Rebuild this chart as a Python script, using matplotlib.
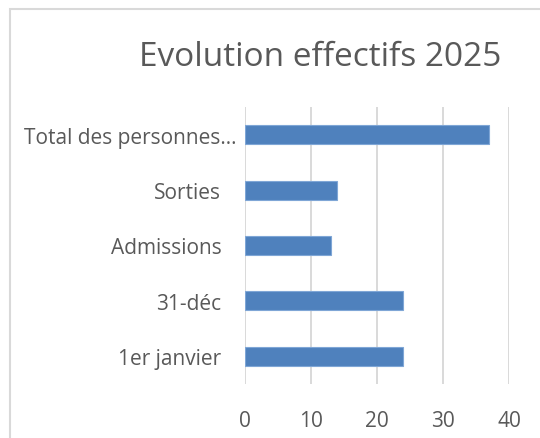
import matplotlib.pyplot as plt
from matplotlib.patches import Rectangle
from matplotlib.transforms import ScaledTranslation

categories = ['1er janvier', '31-déc', 'Admissions', 'Sorties', 'Total des personnes…']
values = [24, 24, 13, 14, 37]
x_ticks = [0, 10, 20, 30, 40]
title = 'Evolution effectifs 2025'

text_color = '#595959'
bar_color = '#4F81BD'
grid_color = '#D9D9D9'

plt.rcParams['font.family'] = ['Open Sans', 'DejaVu Sans']

W, H = 540, 439
fig = plt.figure(figsize=(W / 100, H / 100), dpi=100)

# chart frame, runs off the right and bottom of the picture
fig.patches.append(Rectangle((10 / W, -0.1), 1.2, 1 - 9.5 / H + 0.1,
                             transform=fig.transFigure, fill=False,
                             edgecolor=grid_color, linewidth=1.5))

ax = fig.add_axes([245 / W, 1 - 385 / H, (509 - 245) / W, (385 - 108) / H])
ax.barh(range(len(categories)), values, height=0.345, color=bar_color,
        edgecolor='#7FA6D6', linewidth=0.8, zorder=3)

ax.set_xlim(0, 40)
ax.set_ylim(-0.5, len(categories) - 0.5)
ax.set_xticks(x_ticks)
ax.set_yticks(range(len(categories)))
ax.set_yticklabels(categories)
ax.grid(axis='x', color=grid_color, linewidth=1.4, zorder=0)
ax.tick_params(length=0, labelsize=15, labelcolor=text_color)
ax.tick_params(axis='x', pad=19)
ax.tick_params(axis='y', pad=17)
for s in ax.spines.values():
    s.set_visible(False)

# the truncated label sits a bit further right, as in Excel
last = ax.get_yticklabels()[-1]
last.set_transform(last.get_transform() + ScaledTranslation(0.15, 0, fig.dpi_scale_trans))

fig.text(320 / W, 1 - 57 / H, title, ha='center', va='center',
         fontsize=24, color=text_color)

fig.savefig('out.png', dpi=100)
